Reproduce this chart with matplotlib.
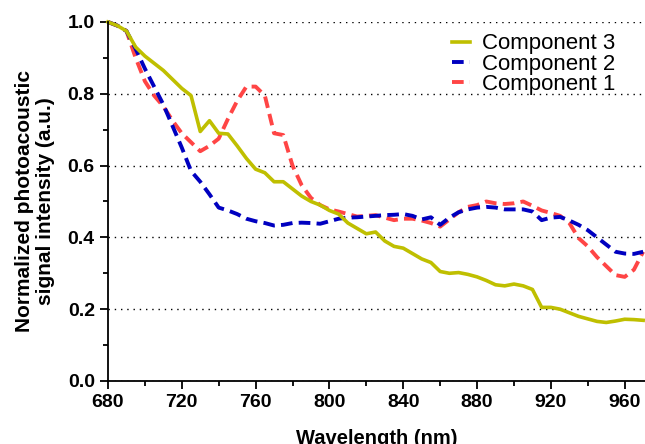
import matplotlib
matplotlib.use("Agg")
import matplotlib.pyplot as plt
from matplotlib.ticker import MultipleLocator

wavelength = list(range(680, 975, 5))

comp3 = [1.00, 0.99, 0.975, 0.93, 0.905, 0.885, 0.865, 0.84, 0.815, 0.795,
         0.695, 0.725, 0.69, 0.688, 0.655, 0.62, 0.59, 0.58, 0.555, 0.555,
         0.535, 0.515, 0.50, 0.49, 0.475, 0.465, 0.44, 0.425, 0.41, 0.415,
         0.39, 0.375, 0.37, 0.355, 0.34, 0.33, 0.305, 0.30, 0.302, 0.297,
         0.29, 0.28, 0.268, 0.265, 0.27, 0.265, 0.255, 0.205, 0.205, 0.20,
         0.19, 0.18, 0.173, 0.166, 0.163, 0.167, 0.172, 0.171, 0.169]

comp2 = [1.00, 0.99, 0.975, 0.925, 0.87, 0.82, 0.77, 0.71, 0.65, 0.585,
         0.555, 0.52, 0.483, 0.475, 0.465, 0.452, 0.445, 0.44, 0.433, 0.435,
         0.44, 0.441, 0.44, 0.438, 0.445, 0.452, 0.455, 0.456, 0.458, 0.46,
         0.462, 0.463, 0.465, 0.46, 0.45, 0.456, 0.435, 0.455, 0.47, 0.478,
         0.483, 0.485, 0.483, 0.478, 0.478, 0.478, 0.472, 0.448, 0.455, 0.457,
         0.447, 0.435, 0.42, 0.40, 0.38, 0.36, 0.355, 0.354, 0.36]

comp1 = [1.00, 0.99, 0.975, 0.90, 0.835, 0.795, 0.765, 0.725, 0.69, 0.665,
         0.64, 0.655, 0.675, 0.73, 0.78, 0.82, 0.82, 0.795, 0.69, 0.685,
         0.60, 0.545, 0.51, 0.49, 0.478, 0.472, 0.465, 0.458, 0.46, 0.462,
         0.455, 0.448, 0.452, 0.452, 0.447, 0.44, 0.43, 0.45, 0.47, 0.485,
         0.49, 0.50, 0.495, 0.493, 0.495, 0.50, 0.488, 0.475, 0.468, 0.46,
         0.44, 0.398, 0.375, 0.345, 0.32, 0.295, 0.29, 0.31, 0.36]

plt.rcParams['font.family'] = ['Liberation Sans', 'DejaVu Sans']

fig = plt.figure(figsize=(6.45, 4.44), dpi=100)
ax = fig.add_axes([0.1674, 0.1419, 0.8326, 0.8086])

l1, = ax.plot(wavelength, comp1, color="#FF4545", lw=2.8, ls=(0, (3, 1.6)))
l2, = ax.plot(wavelength, comp2, color="#0000C0", lw=2.8, ls=(0, (3, 1.6)))
l3, = ax.plot(wavelength, comp3, color="#BFBF00", lw=2.6)
for l in (l1, l2, l3):
    l.set_clip_on(False)

ax.set_xlim(680, 971)
ax.set_ylim(0, 1.0)
ax.xaxis.set_major_locator(MultipleLocator(40))
ax.xaxis.set_minor_locator(MultipleLocator(20))
ax.yaxis.set_major_locator(MultipleLocator(0.2))
ax.yaxis.set_minor_locator(MultipleLocator(0.1))
ax.yaxis.set_major_formatter(matplotlib.ticker.FormatStrFormatter("%.1f"))

for s in ("top", "right"):
    ax.spines[s].set_visible(False)
for s in ("left", "bottom"):
    ax.spines[s].set_linewidth(1.3)

ax.tick_params(which="major", length=6, width=1.3, labelsize=14)
ax.tick_params(which="minor", length=3.5, width=1.3)
for lab in ax.get_xticklabels() + ax.get_yticklabels():
    lab.set_fontweight("bold")

ax.grid(axis="y", which="major", color="black", lw=1.0, ls=(0, (1, 3.5)))
ax.set_axisbelow(True)

ax.set_xlabel("Wavelength (nm)", fontsize=14.5, fontweight="bold", labelpad=13)
ax.set_ylabel("Normalized photoacoustic\nsignal intensity (a.u.)", fontsize=15,
              fontweight="bold", labelpad=9, linespacing=1.15)

leg = ax.legend([l3, l2, l1], ["Component 3", "Component 2", "Component 1"],
                loc="upper right", bbox_to_anchor=(0.975, 0.955),
                bbox_transform=fig.transFigure, frameon=False, fontsize=16,
                handlelength=0.8, handletextpad=0.55, labelspacing=-0.03,
                borderpad=0.1)

fig.savefig("out.png", dpi=100)
